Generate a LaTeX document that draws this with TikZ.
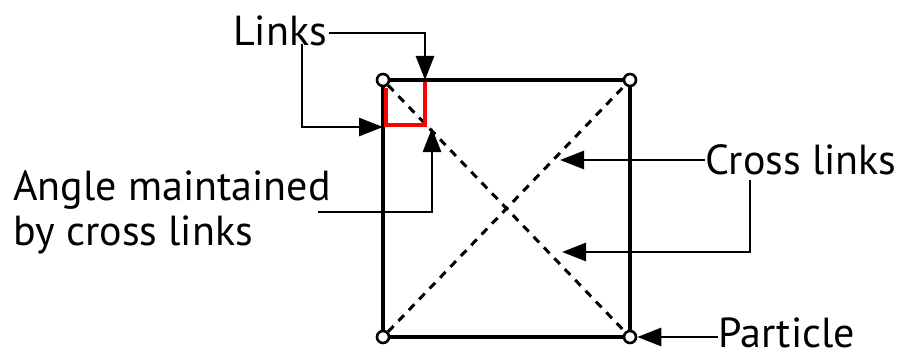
\documentclass[tikz,border=0pt]{standalone}
\usepackage{fontspec}
\setmainfont{PT Sans}
\usetikzlibrary{arrows.meta,positioning,calc}
\tikzset{
  edg/.style={line width=1.6pt},
  crs/.style={line width=1.5pt,dash pattern=on 4pt off 3.5pt},
  prt/.style={circle,draw,fill=white,line width=1.3pt,inner sep=0pt,minimum size=6pt},
  ar/.style ={-{Triangle[length=12pt,width=9pt]},line width=1.4pt},
  lbl/.style={font=\fontsize{21}{22.5}\selectfont,inner sep=0pt},
}
\begin{document}
\begin{tikzpicture}[x=0.5pt,y=-0.5pt]
  \useasboundingbox (0,0) rectangle (897,358);
  % particles at the corners
  \node[prt] (p1) at (383,80)  {};
  \node[prt] (p2) at (630,80)  {};
  \node[prt] (p3) at (383,337) {};
  \node[prt] (p4) at (630,337) {};
  % links and cross links
  \draw[edg] (p1) -- (p2) -- (p4) -- (p3) -- (p1);
  \draw[crs] (p1) -- (p4);
  \draw[crs] (p3) -- (p2);
  \draw[red,line width=1.6pt] (386,88) |- (425,125) -- (425,82);
  % labels
  \node[lbl] (lnk) at (280,31) {Links};
  \node[lbl,anchor=west,align=left] (ang) at (13,212) {Angle maintained\\by cross links};
  \node[lbl,anchor=west] (cl) at (705,160) {Cross links};
  \node[lbl,anchor=west] (pt) at (718,333) {Particle};
  \coordinate (tA) at (425,80);
  \coordinate (tB) at (383,127);
  \coordinate (sC) at (318,212);
  \coordinate (tC) at (432,128);
  \coordinate (tD) at (560,160);
  \coordinate (sE) at (750,180);
  \coordinate (tE) at (562,252);
  \draw[ar] ($(lnk.east)+(2,2)$) -| (tA);
  \draw[ar] ($(lnk.south)+(22,-3)$) |- (tB);
  \draw[ar] (sC) -| (tC);
  \draw[ar] (cl.west) -- (tD);
  \draw[ar] (sE) |- (tE);
  \draw[ar] (pt.west |- p4) -- (p4.east);
\end{tikzpicture}
\end{document}
